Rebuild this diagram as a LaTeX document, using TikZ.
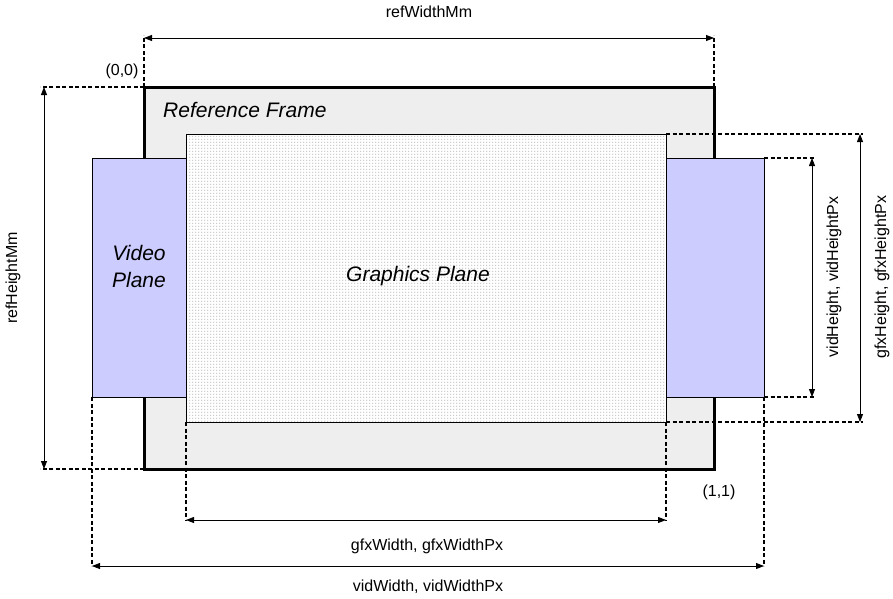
\documentclass[tikz,border=0pt]{standalone}
\usepackage{fontspec}
\setmainfont{Liberation Sans}
\usetikzlibrary{arrows.meta,patterns}
\definecolor{refgray}{HTML}{EEEEEE}
\definecolor{vidblue}{HTML}{CCCCFF}
\pgfdeclarepatternformonly{gfxdots}{\pgfpoint{0pt}{0pt}}{\pgfpoint{3pt}{3pt}}{\pgfpoint{3pt}{3pt}}{\pgfpathrectangle{\pgfpoint{0.5pt}{0.5pt}}{\pgfpoint{1pt}{1pt}}\pgfusepath{fill}}
\tikzset{
  plane/.style={draw=black, line width=0.8pt, inner sep=0pt, outer sep=0pt},
  ext/.style={draw=black, line width=1.2pt, dash pattern=on 4pt off 2.5pt},
  dim/.style={draw=black, line width=0.8pt, {Triangle[length=8pt,width=6pt]}-{Triangle[length=8pt,width=6pt]}},
  lbl/.style={font=\fontsize{16}{18}\selectfont, inner sep=0pt},
  big/.style={font=\fontsize{21}{25}\selectfont\itshape, inner sep=0pt, align=center},
}
\begin{document}
\begin{tikzpicture}[x=1pt,y=-1pt]
\useasboundingbox (0,0) rectangle (893,598);
% planes
\node[plane, draw=none, fill=refgray, minimum width=570pt, minimum height=382pt] (ref) at (429,278) {};
\draw[line width=3pt] (ref.north west) rectangle (ref.south east);
\node[plane, fill=vidblue, minimum width=672pt, minimum height=239pt] (vid) at (428,277.5) {};
\node[plane, fill=white, minimum width=480pt, minimum height=288pt] (gfx) at (426,278) {};
\fill[pattern=gfxdots, pattern color=black!45] (gfx.north west) rectangle (gfx.south east);
\draw[line width=0.8pt] (gfx.north west) rectangle (gfx.south east);
% texts
\node[big, anchor=west] (reftext) at (163,110) {Reference Frame};
\node[big] (vidtext) at (139,266) {Video\\[2pt]Plane};
\node[big] (gfxtext) at (418,276) {Graphics Plane};
\node[lbl] (origin) at (122,71) {(0,0)};
\node[lbl] (endpt) at (719,492) {(1,1)};
% extension coordinates
\coordinate (rwL) at (144,38);
\coordinate (rwR) at (714,38);
\coordinate (rhT) at (44,87);
\coordinate (rhB) at (44,469);
\coordinate (vhT) at (812,158);
\coordinate (vhB) at (812,397);
\coordinate (ghT) at (860,134);
\coordinate (ghB) at (860,422);
\coordinate (gwL) at (186,520);
\coordinate (gwR) at (666,520);
\coordinate (vwL) at (92,566);
\coordinate (vwR) at (764,566);
% extension lines
\draw[ext] (ref.north west) -- (rwL |- 0,35);
\draw[ext] (ref.north east) -- (rwR |- 0,35);
\draw[ext] (ref.north west) -- (40,87);
\draw[ext] (ref.south west) -- (40,469);
\draw[ext] (vid.north east) -- (815,158);
\draw[ext] (vid.south east) -- (815,397);
\draw[ext] (gfx.north east) -- (863,134);
\draw[ext] (gfx.south east) -- (863,422);
\draw[ext] (gfx.south west) -- (gwL);
\draw[ext] (gfx.south east) -- (gwR);
\draw[ext] (vid.south west) -- (vwL);
\draw[ext] (vid.south east) -- (vwR);
% dimension arrows
\draw[dim] (rwL) -- (rwR);
\draw[dim] (rhT) -- (rhB);
\draw[dim] (vhT) -- (vhB);
\draw[dim] (ghT) -- (ghB);
\draw[dim] (gwL) -- (gwR);
\draw[dim] (vwL) -- (vwR);
% dimension labels
\node[lbl] (rwlbl) at (429,12) {refWidthMm};
\node[lbl, rotate=90] (rhlbl) at (13,278) {refHeightMm};
\node[lbl, rotate=90] (vhlbl) at (834,277) {vidHeight, vidHeightPx};
\node[lbl, rotate=90] (ghlbl) at (882,277) {gfxHeight, gfxHeightPx};
\node[lbl] (gwlbl) at (427,546) {gfxWidth, gfxWidthPx};
\node[lbl] (vwlbl) at (428,587) {vidWidth, vidWidthPx};
\end{tikzpicture}
\end{document}
